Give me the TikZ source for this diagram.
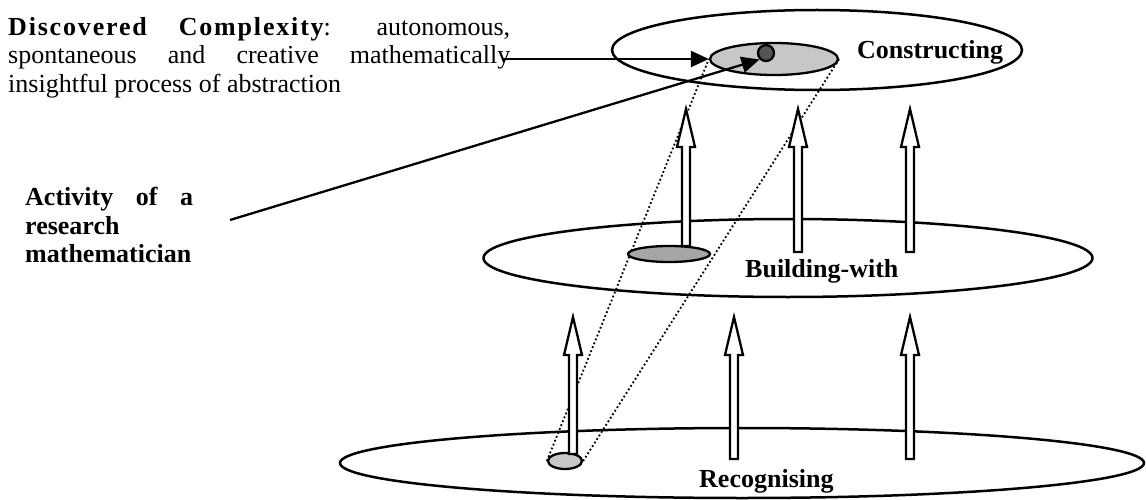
\documentclass[tikz,border=0pt]{standalone}
\usepackage{fontspec}
\setmainfont{Liberation Serif}
\usepackage{tikz}
\usetikzlibrary{arrows.meta,shapes.geometric,backgrounds}
\newcommand{\bigtext}{\fontsize{26}{28.5}\selectfont}
\newcommand{\liftarrow}[2]{%
 \draw[liftbody] ([xshift=-4pt]#1) -- ([shift={(-4,38)}]#2) -- ([shift={(-9,38)}]#2)
 -- (#2) -- ([shift={(9,38)}]#2) -- ([shift={(4,38)}]#2) -- ([xshift=4pt]#1) -- cycle;}

\begin{document}
\begin{tikzpicture}[x=1pt,y=-1pt,font=\bigtext,>={Triangle[length=18pt,width=16pt]},
 plane/.style={draw,ellipse,line width=2.5pt,inner sep=0},
 spot/.style={draw,ellipse,line width=2.3pt,inner sep=0},
 liftbody/.style={draw,fill=white,line width=2.3pt},
 pointer/.style={->,line width=2.3pt},
 cone/.style={line width=1.8pt,dash pattern=on 1.8pt off 2.4pt},
 level/.style={font=\bigtext\bfseries,inner sep=0,anchor=base west}]
 \useasboundingbox (0,0) rectangle (1146,500);
 \node[plane,minimum width=410pt,minimum height=80pt] (constructing) at (817,50) {};
 \node[plane,minimum width=609pt,minimum height=78pt] (building) at (788,258) {};
 \node[plane,minimum width=804pt,minimum height=70pt] (recognising) at (742,463) {};
 \node[spot,fill=black!22,minimum width=128pt,minimum height=32pt] (seedtop) at (774,59) {};
 \node[spot,fill=black!35,minimum width=82pt,minimum height=16pt] (seedmid) at (669,254) {};
 \node[spot,fill=black!22,minimum width=34pt,minimum height=16pt] (seedlow) at (565,461) {};
 \node[draw,circle,fill=black!67,line width=2.3pt,inner sep=0,minimum size=16pt] (core) at (766,53) {};
 \begin{scope}[on background layer]
 \draw[cone] (seedlow.west) -- (seedtop.west);
 \draw[cone] (seedlow.east) -- (seedtop.east);
 \end{scope}
 \foreach \x/\foot/\n in {686/246/1,798/252/2,910/252/3} {
 \coordinate (uf\n) at (\x,\foot);
 \coordinate (ut\n) at (\x,109);
 \liftarrow{uf\n}{ut\n}
 }
 \foreach \x/\foot/\n in {573/454/1,734/459/2,910/459/3} {
 \coordinate (lf\n) at (\x,\foot);
 \coordinate (lt\n) at (\x,317);
 \liftarrow{lf\n}{lt\n}
 }
 \node[level] (constructinglabel) at (857,59) {Constructing};
 \node[level] (buildinglabel) at (745,277) {Building-with};
 \node[level] (recognisinglabel) at (699,487) {Recognising};
 \node[inner sep=0,anchor=north west,text width=502pt,align=justify] (discovered) at (8,17)
 {{\bfseries\addfontfeatures{LetterSpace=7}Discovered Complexity}: autonomous,\linebreak
 spontaneous and creative mathematically\linebreak insightful process of abstraction};
 \node[inner sep=0,anchor=north west,text width=168pt,align=justify,font=\bigtext\bfseries] (activity) at (25,187)
 {\hyphenpenalty=10000 Activity of a\linebreak research\linebreak mathematician};
 \coordinate (actfoot) at (230,220);
 \draw[pointer] ([xshift=-7pt]discovered.east |- seedtop.west) -- (seedtop.west);
 \draw[pointer] (actfoot) -- (core.south west);
\end{tikzpicture}
\end{document}
